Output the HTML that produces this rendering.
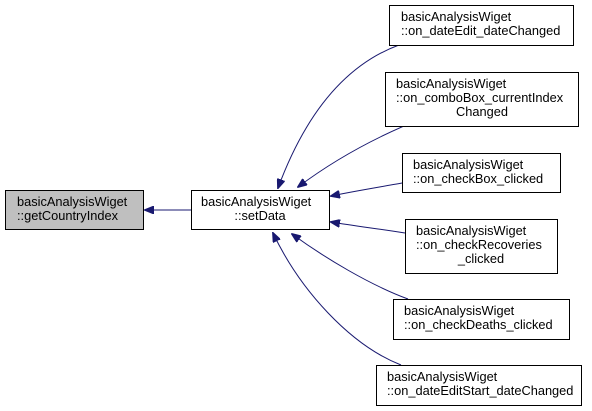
<!DOCTYPE html>
<html><head><meta charset="utf-8"><style>
html,body{margin:0;padding:0;background:#fff;}
svg{display:block;}
text{font-family:"Liberation Sans",Helvetica,Arial,sans-serif;font-size:12.8px;fill:#000;}
</style></head><body>
<svg width="592" height="411" viewBox="0 0 592 411" xmlns="http://www.w3.org/2000/svg">
<defs>
<marker id="a" markerWidth="10" markerHeight="8" refX="9" refY="4" orient="auto" markerUnits="userSpaceOnUse">
<path d="M0,0 L10,4 L0,8 Z" fill="#191970" stroke="#191970"/>
</marker>
</defs>
<g fill="none" stroke="#191970" stroke-width="1">
<path d="M191,210 L145,210" marker-end="url(#a)"/>
<path d="M399,45 C345,65 305,115 278,188" marker-end="url(#a)"/>
<path d="M404,126 C365,143 330,163 298,187" marker-end="url(#a)"/>
<path d="M402,183 C380,187 355,191 331,196" marker-end="url(#a)"/>
<path d="M405,233 C380,229 355,226 331,222" marker-end="url(#a)"/>
<path d="M408,299 C370,285 325,258 292,234" marker-end="url(#a)"/>
<path d="M401,365 C350,345 300,290 273,233" marker-end="url(#a)"/>
</g>
<g stroke="#000" stroke-width="1">
<rect x="5.5" y="190.5" width="138" height="39" fill="#bfbfbf"/>
<rect x="191.5" y="190.5" width="138" height="39" fill="#fff"/>
<rect x="389.5" y="5.5" width="184" height="40" fill="#fff"/>
<rect x="385.5" y="72.5" width="193" height="54" fill="#fff"/>
<rect x="402.5" y="153.5" width="158" height="39" fill="#fff"/>
<rect x="405.5" y="219.5" width="152" height="54" fill="#fff"/>
<rect x="393.5" y="299.5" width="176" height="40" fill="#fff"/>
<rect x="376.5" y="365.5" width="205" height="40" fill="#fff"/>
</g>
<text x="17" y="206">basicAnalysisWiget</text>
<text x="17" y="220">::getCountryIndex</text>
<text x="201" y="206">basicAnalysisWiget</text>
<text x="260" y="220" text-anchor="middle">::setData</text>
<text x="401" y="21">basicAnalysisWiget</text>
<text x="401" y="35">::on_dateEdit_dateChanged</text>
<text x="396" y="88">basicAnalysisWiget</text>
<text x="396" y="102">::on_comboBox_currentIndex</text>
<text x="482" y="116" text-anchor="middle">Changed</text>
<text x="413" y="169">basicAnalysisWiget</text>
<text x="413" y="183">::on_checkBox_clicked</text>
<text x="416" y="235">basicAnalysisWiget</text>
<text x="416" y="249">::on_checkRecoveries</text>
<text x="481" y="263" text-anchor="middle">_clicked</text>
<text x="404" y="315">basicAnalysisWiget</text>
<text x="404" y="329">::on_checkDeaths_clicked</text>
<text x="387" y="381">basicAnalysisWiget</text>
<text x="387" y="395">::on_dateEditStart_dateChanged</text>
</svg>
</body></html>
